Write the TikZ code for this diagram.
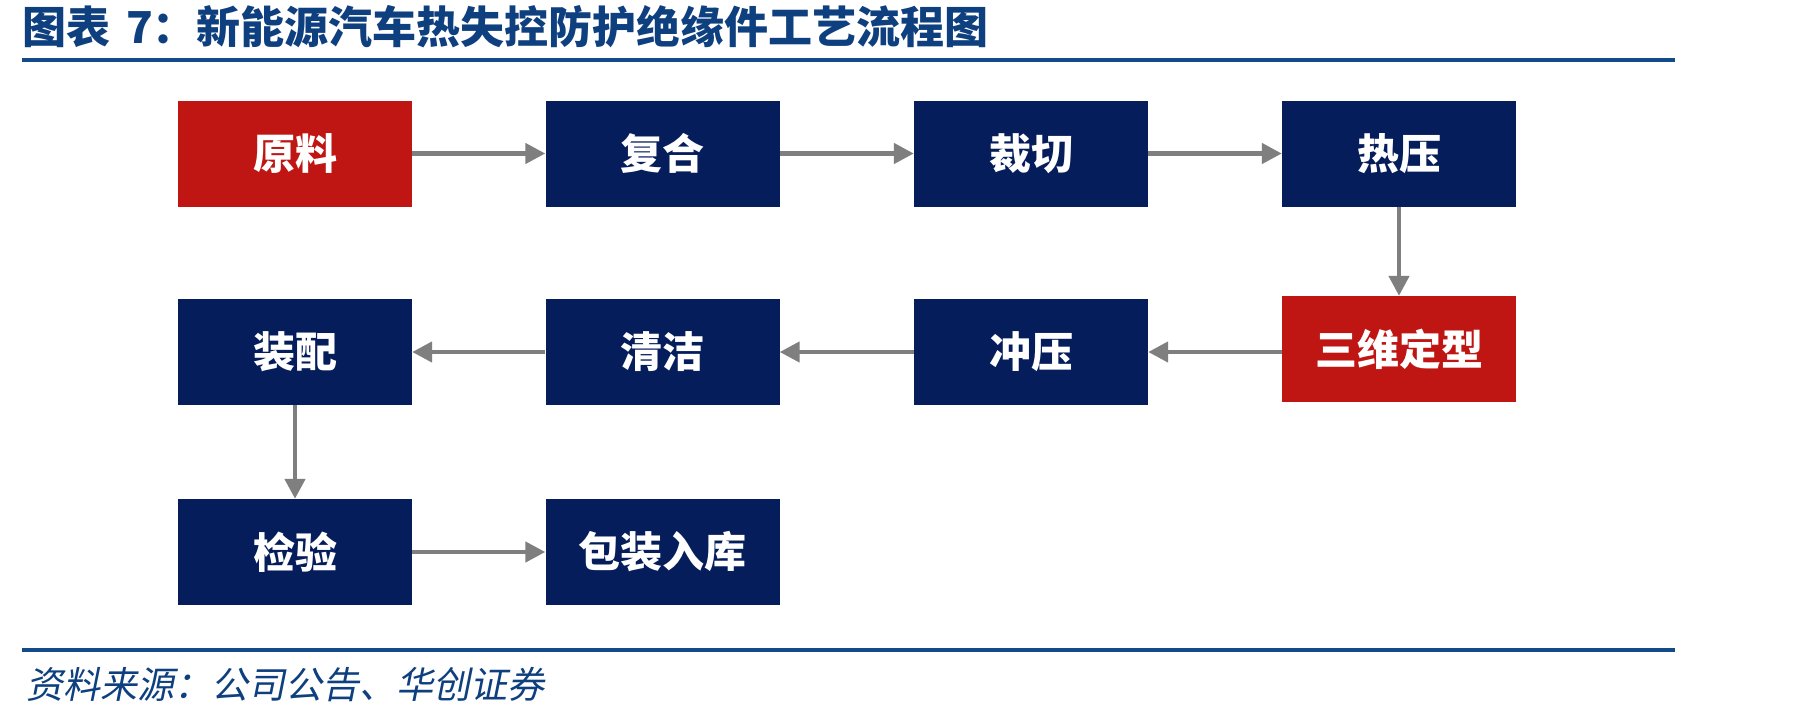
\documentclass[tikz,border=0pt]{standalone}
\usepackage{fontspec}
\usetikzlibrary{arrows.meta}
\newfontfamily\cjk{Noto Sans CJK SC}
\newfontfamily\cjkslant{Noto Sans CJK SC}[FakeSlant=0.2]
\definecolor{navybox}{HTML}{061D5C}
\definecolor{redbox}{HTML}{BF1614}
\definecolor{arrowgrey}{HTML}{7F7F7F}
\definecolor{titleblue}{HTML}{0E3F7E}
\definecolor{ruleblue}{HTML}{124A8A}
\tikzset{
  stepbox/.style={rectangle, minimum width=234pt, minimum height=106pt, inner sep=0pt,
    fill=navybox, text=white, font=\cjk\bfseries\fontsize{42}{48}\selectfont},
  redstep/.style={stepbox, fill=redbox},
  flow/.style={draw=arrowgrey, line width=4.5pt, -{Triangle[length=20pt,width=20pt]}}
}
\begin{document}
\begin{tikzpicture}[x=1pt,y=-1pt]
\useasboundingbox[fill=white] (0,0) rectangle (1801,718);
% title
\node[anchor=west, inner sep=0pt, text=titleblue, font=\cjk\bfseries\fontsize{44}{48}\selectfont] (title) at (22,27) {图表\hspace{16pt}7：新能源汽车热失控防护绝缘件工艺流程图};
\draw[ruleblue, line width=4pt] (22,60) coordinate (t1) -- (1675,60) coordinate (t2);
% boxes
\node[redstep]  (yl) at (295,153.5) {原料};
\node[stepbox]  (fh) at (662.5,153.5) {复合};
\node[stepbox]  (cq) at (1031,153.5) {裁切};
\node[stepbox]  (ry) at (1399,153.5) {热压};
\node[redstep]  (sw) at (1399,349) {三维定型};
\node[stepbox]  (cy) at (1031,352) {冲压};
\node[stepbox]  (qj) at (662.5,352) {清洁};
\node[stepbox]  (zp) at (295,352) {装配};
\node[stepbox]  (jy) at (295,552) {检验};
\node[stepbox]  (bz) at (662.5,552) {包装入库};
% arrows
\draw[flow] (yl.east) -- (fh.west);
\draw[flow] (fh.east) -- (cq.west);
\draw[flow] (cq.east) -- (ry.west);
\draw[flow] (ry.south) -- (sw.north);
\draw[flow] (sw.west |- cy.east) -- (cy.east);
\draw[flow] (cy.west) -- (qj.east);
\draw[flow] (qj.west) -- (zp.east);
\draw[flow] (zp.south) -- (jy.north);
\draw[flow] (jy.east) -- (bz.west);
% footer
\draw[ruleblue, line width=3.5pt] (22,650) coordinate (f1) -- (1675,650) coordinate (f2);
\node[anchor=west, inner sep=0pt, text=titleblue, font=\cjkslant\fontsize{37}{42}\selectfont] (src) at (26,685) {资料来源：公司公告、华创证券};
\end{tikzpicture}
\end{document}
